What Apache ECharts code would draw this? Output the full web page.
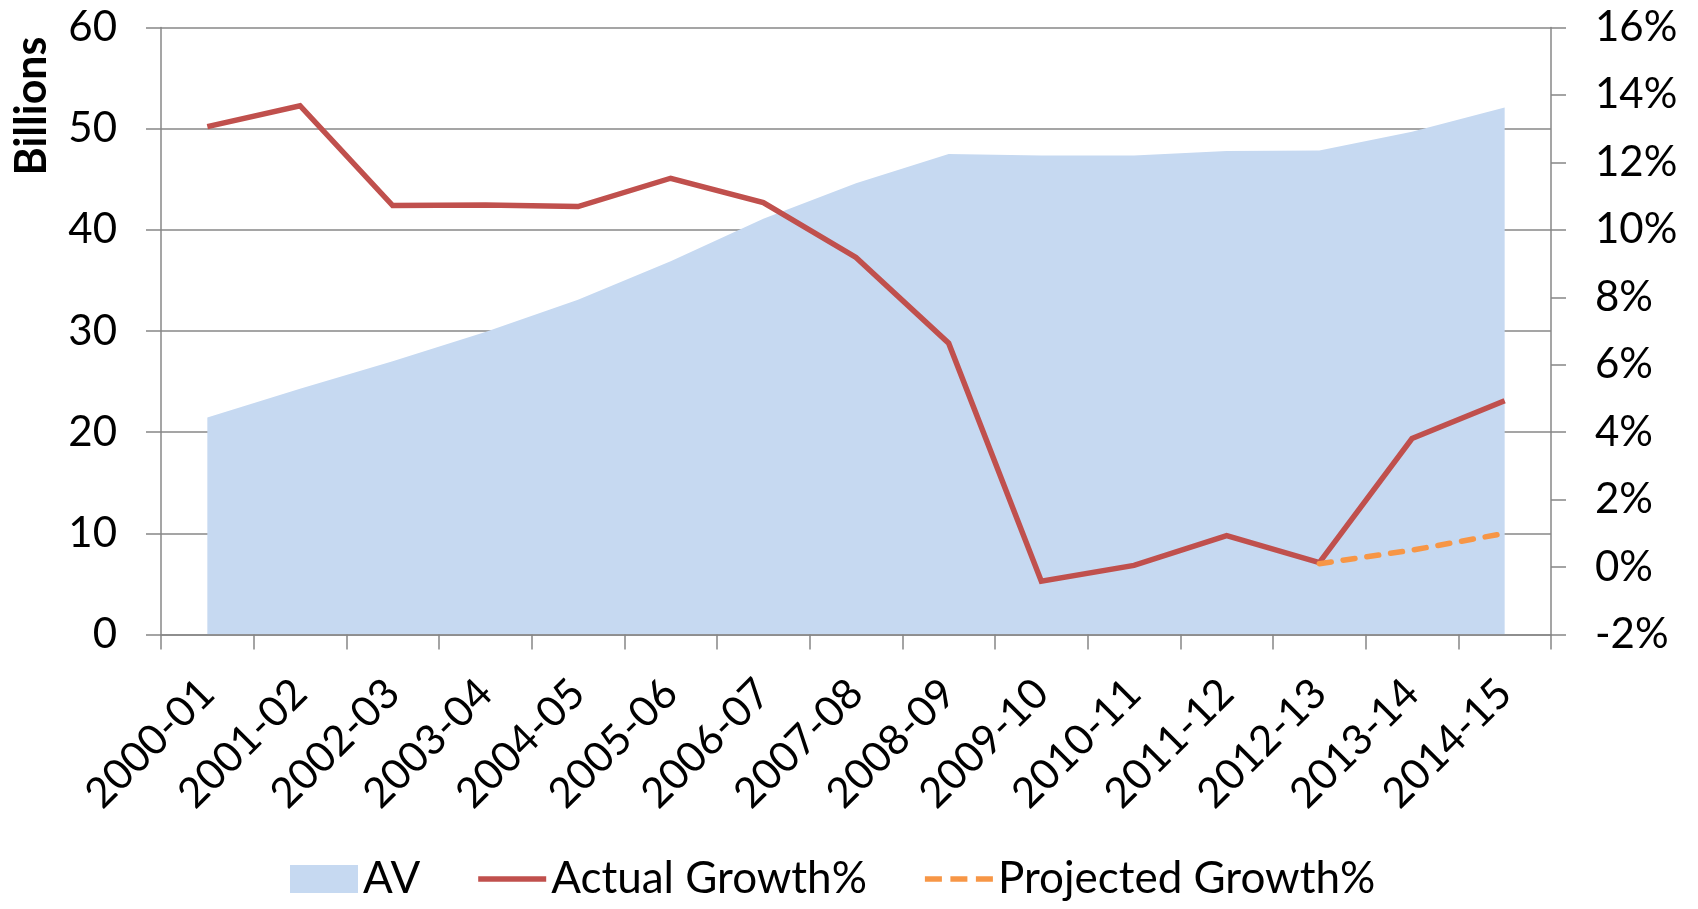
<!DOCTYPE html>
<html>
<head>
<meta charset="utf-8">
<script src="https://cdn.jsdelivr.net/npm/echarts@6/dist/echarts.min.js"></script>
<style>
html,body{margin:0;padding:0;background:#fff;}
#chart{width:1698px;height:909px;}
</style>
</head>
<body>
<div id="chart"></div>
<script>
const categories = ['2000-01','2001-02','2002-03','2003-04','2004-05','2005-06','2006-07','2007-08','2008-09','2009-10','2010-11','2011-12','2012-13','2013-14','2014-15'];
const avBillions = [21.45, 24.3, 27.0, 29.9, 33.1, 36.9, 41.1, 44.6, 47.5, 47.35, 47.35, 47.8, 47.85, 49.7, 52.1];
const actualGrowth = [13.06, 13.68, 10.72, 10.74, 10.69, 11.53, 10.81, 9.18, 6.64, -0.42, 0.05, 0.93, 0.13, 3.81, 4.93];
const projectedGrowth = [null, null, null, null, null, null, null, null, null, null, null, null, 0.1, 0.5, 1.0];
const leftTicks = [0, 60, 10];
const rightTicks = [-2, 16, 2];

const FONT = 'Lato';
const gridColor = '#878787';
const lineIcon = 'path://M0,0L0,0M0,28L0,28M0,11.25H68V16.75H0Z';
const dashIcon = 'path://M0,0L0,0M0,28L0,28M0,11.25H17V16.75H0ZM25.5,11.25H42.5V16.75H25.5ZM51,11.25H68V16.75H51Z';

const chart = echarts.init(document.getElementById('chart'), null, {renderer: 'canvas'});
chart.setOption({
  animation: false,
  backgroundColor: '#ffffff',
  textStyle: {fontFamily: FONT, color: '#000'},
  grid: {left: 161, right: 147, top: 27.5, bottom: 274.5, containLabel: false},
  legend: {
    left: 290, top: 857, padding: 0,
    itemWidth: 68, itemHeight: 28, itemGap: 58,
    textStyle: {fontFamily: FONT, fontSize: 44, color: '#000'},
    data: [
      {name: 'AV', icon: 'rect'},
      {name: 'Actual Growth%', icon: lineIcon},
      {name: 'Projected Growth%', icon: dashIcon}
    ]
  },
  graphic: [{
    type: 'text', x: 32, y: 106, rotation: Math.PI / 2,
    style: {text: 'Billions', font: 'bold 43px Lato', fill: '#000', align: 'center', verticalAlign: 'middle'}
  }],
  xAxis: {
    type: 'category', data: categories, boundaryGap: true, z: 10,
    axisLine: {lineStyle: {color: gridColor, width: 1.5}},
    axisTick: {show: true, inside: false, length: 15, alignWithLabel: false, interval: 0, lineStyle: {color: gridColor, width: 1.5}},
    axisLabel: {interval: 0, rotate: 45, margin: 52, fontFamily: FONT, fontSize: 42, color: '#000'},
    splitLine: {show: false}
  },
  yAxis: [{
    type: 'value', min: leftTicks[0], max: leftTicks[1], interval: leftTicks[2], position: 'left',
    axisLine: {show: true, lineStyle: {color: gridColor, width: 1.5}},
    axisTick: {show: true, inside: false, length: 15, lineStyle: {color: gridColor, width: 1.5}},
    axisLabel: {margin: 44, fontFamily: FONT, fontSize: 42, color: '#000'},
    splitLine: {show: true, lineStyle: {color: gridColor, width: 1.5}}
  }, {
    type: 'value', min: rightTicks[0], max: rightTicks[1], interval: rightTicks[2], position: 'right',
    axisLine: {show: true, lineStyle: {color: gridColor, width: 1.5}},
    axisTick: {show: true, inside: false, length: 15, lineStyle: {color: gridColor, width: 1.5}},
    axisLabel: {margin: 44, fontFamily: FONT, fontSize: 42, color: '#000', formatter: '{value}%'},
    splitLine: {show: false}
  }],
  series: [{
    name: 'AV', type: 'line', yAxisIndex: 0, data: avBillions,
    symbol: 'none', showSymbol: false,
    itemStyle: {color: '#C6D9F1'},
    lineStyle: {width: 0, color: '#C6D9F1'},
    areaStyle: {color: '#C6D9F1', opacity: 1},
    z: 1
  }, {
    name: 'Actual Growth%', type: 'line', yAxisIndex: 1, data: actualGrowth,
    symbol: 'none', showSymbol: false,
    itemStyle: {color: '#C0504D'},
    lineStyle: {width: 5.5, color: '#C0504D', join: 'miter'},
    z: 3
  }, {
    name: 'Projected Growth%', type: 'line', yAxisIndex: 1, data: projectedGrowth,
    symbol: 'none', showSymbol: false, connectNulls: false,
    itemStyle: {color: '#F79646'},
    lineStyle: {width: 5.5, color: '#F79646', type: [12, 12], cap: 'round'},
    z: 4
  }]
});
</script>
</body>
</html>
